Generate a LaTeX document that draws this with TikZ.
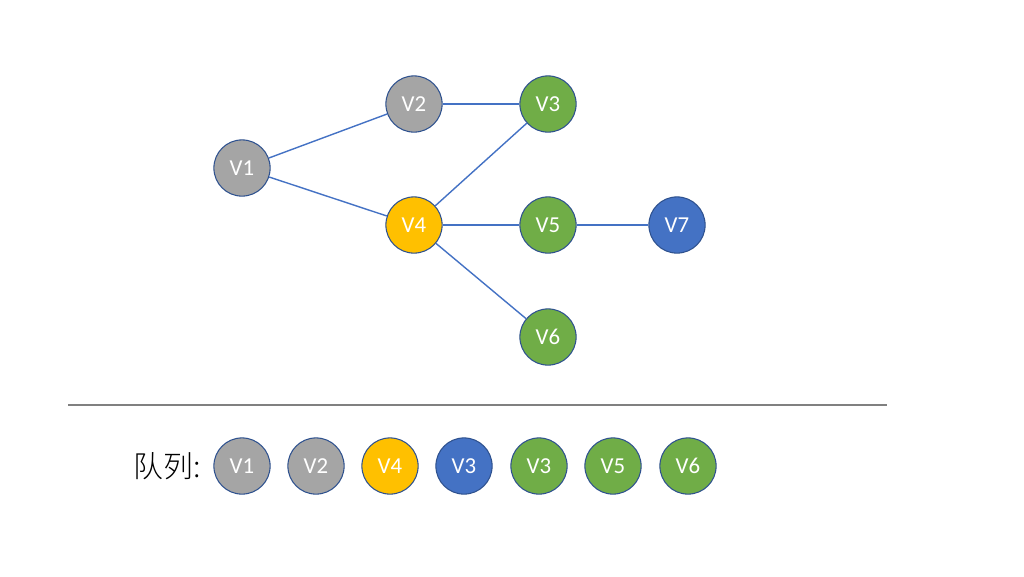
\documentclass[tikz,border=0pt]{standalone}
\usepackage{fontspec}
\setmainfont{Carlito}
\newfontfamily\cjk{Noto Sans CJK SC Light}
\usepackage{xcolor}
\usetikzlibrary{calc}
\definecolor{vgray}{HTML}{A5A5A5}
\definecolor{vgreen}{HTML}{70AD47}
\definecolor{vyellow}{HTML}{FFC000}
\definecolor{vblue}{HTML}{4472C4}
\definecolor{vedge}{HTML}{2F528F}
\tikzset{
vert/.style={circle,draw=vedge,line width=0.6pt,minimum size=32pt,inner sep=0pt,text=white,font=\fontsize{13}{15}\selectfont},
link/.style={draw=vblue,line width=0.8pt}
}
\begin{document}
\begin{tikzpicture}[x=0.02cm,y=-0.02cm]
\useasboundingbox (0,0) rectangle (1024,576);
%graph
\node[vert,fill=vgray] (v1) at (242,168) {V1};
\node[vert,fill=vgray] (v2) at (414,104) {V2};
\node[vert,fill=vgreen] (v3) at (548,104) {V3};
\node[vert,fill=vyellow] (v4) at (414,225) {V4};
\node[vert,fill=vgreen] (v5) at (548,225) {V5};
\node[vert,fill=vgreen] (v6) at (548,337) {V6};
\node[vert,fill=vblue] (v7) at (677,225) {V7};
\draw[link] (v1) -- (v2);
\draw[link] (v1) -- (v4);
\draw[link] (v2) -- (v3);
\draw[link] (v4) -- (v3);
\draw[link] (v4) -- (v5);
\draw[link] (v4) -- (v6);
\draw[link] (v5) -- (v7);
%separator
\coordinate (sepl) at (68,405);
\coordinate (sepr) at (887,405);
\draw[gray,line width=1.1pt] (sepl) -- (sepr);
%queue
\node[font=\cjk\fontsize{17}{20}\selectfont,anchor=east] (qlabel) at (207,466) {队列:};
\node[vert,fill=vgray] (q1) at (242,466) {V1};
\node[vert,fill=vgray] (q2) at (316,466) {V2};
\node[vert,fill=vyellow] (q3) at (390,466) {V4};
\node[vert,fill=vblue] (q4) at (464,466) {V3};
\node[vert,fill=vgreen] (q5) at (539,466) {V3};
\node[vert,fill=vgreen] (q6) at (613,466) {V5};
\node[vert,fill=vgreen] (q7) at (688,466) {V6};
\end{tikzpicture}
\end{document}
